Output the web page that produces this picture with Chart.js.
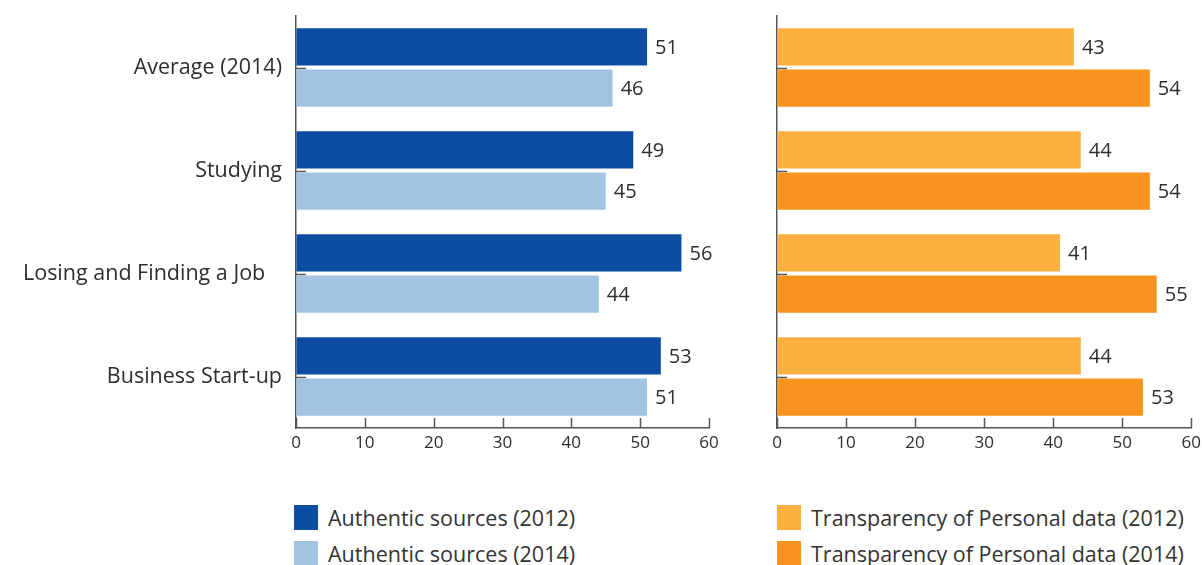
<!DOCTYPE html>
<html>
<head>
<meta charset="utf-8">
<script src="https://cdn.jsdelivr.net/npm/chart.js@4"></script>
<style>
  body { margin: 0; background: #fff; width: 1202px; height: 565px; overflow: hidden; position: relative; font-family: "Open Sans", sans-serif; }
  .panel { position: absolute; top: 0; height: 460px; }
  #leftPanel { left: 0; width: 730px; }
  #rightPanel { left: 760px; width: 446px; }
  .legend-item { position: absolute; height: 25px; display: flex; align-items: center; font-size: 21.5px; color: #333; white-space: nowrap; }
  .legend-item span.box { width: 24px; height: 25px; margin-right: 10px; display: inline-block; }
</style>
</head>
<body>
<div class="panel" id="leftPanel"><canvas id="leftChart"></canvas></div>
<div class="panel" id="rightPanel"><canvas id="rightChart"></canvas></div>
<div id="legend"></div>
<script>
// Chart data
const categories = ['Average (2014)', 'Studying', 'Losing and Finding a Job   ', 'Business Start-up'];
const authentic2012 = [51, 49, 56, 53];
const authentic2014 = [46, 45, 44, 51];
const transparency2012 = [43, 44, 41, 44];
const transparency2014 = [54, 54, 55, 53];
const xMin = 0, xMax = 60, xStep = 10;

const colors = {
    auth2012: '#0c4da2',
    auth2014: '#a2c4e2',
    trans2012: '#fbb040',
    trans2014: '#f7941e'
};

const textColor = '#2e2e2e';
const axisColor = '#555555';

// Short ticks pointing into the plot area
const innerTicks = {
    id: 'innerTicks',
    beforeDatasetsDraw(chart) {
        const { ctx, scales: { x, y } } = chart;
        ctx.save();
        ctx.strokeStyle = axisColor;
        ctx.lineWidth = 1.5;
        y.ticks.forEach((t, i) => {
            const py = Math.round(y.getPixelForTick(i)) + 0.5;
            ctx.beginPath();
            ctx.moveTo(x.left, py);
            ctx.lineTo(x.left + 10, py);
            ctx.stroke();
        });
        x.ticks.forEach((t, i) => {
            const px = Math.round(x.getPixelForTick(i)) + 0.5;
            ctx.beginPath();
            ctx.moveTo(px, y.bottom);
            ctx.lineTo(px, y.bottom - 10);
            ctx.stroke();
        });
        ctx.restore();
    }
};

// Value labels at the end of each bar
const valueLabels = {
    id: 'valueLabels',
    afterDatasetsDraw(chart) {
        const { ctx } = chart;
        ctx.save();
        ctx.fillStyle = textColor;
        ctx.font = '20px "Open Sans"';
        ctx.textAlign = 'left';
        ctx.textBaseline = 'middle';
        chart.data.datasets.forEach((ds, i) => {
            chart.getDatasetMeta(i).data.forEach((bar, j) => {
                ctx.fillText(ds.data[j], bar.x + 8, bar.y + 1);
            });
        });
        ctx.restore();
    }
};

function createPanel(canvasId, series, showLabels, padRight, yWidth) {
    const ctx = document.getElementById(canvasId).getContext('2d');
    return new Chart(ctx, {
        type: 'bar',
        data: {
            labels: categories,
            datasets: series.map(s => ({
                label: s.label,
                data: s.data,
                backgroundColor: s.color,
                borderWidth: 0,
                categoryPercentage: 0.8,
                barPercentage: 0.9
            }))
        },
        options: {
            indexAxis: 'y',
            responsive: true,
            maintainAspectRatio: false,
            animation: false,
            layout: { padding: { top: 16, right: padRight, left: 0, bottom: 0 } },
            plugins: {
                legend: { display: false },
                tooltip: { enabled: false }
            },
            scales: {
                x: {
                    min: xMin,
                    max: xMax,
                    ticks: {
                        stepSize: xStep,
                        color: textColor,
                        font: { family: 'Open Sans', size: 17 },
                        padding: 5
                    },
                    grid: { display: true, drawOnChartArea: false, drawTicks: false },
                    border: { color: axisColor, width: 1.5 },
                    afterFit(scale) { scale.height = 32; }
                },
                y: {
                    ticks: {
                        display: showLabels,
                        color: textColor,
                        font: { family: 'Open Sans', size: 21.5 },
                        padding: 0
                    },
                    // invisible tick marks keep a gap between labels and axis
                    grid: { display: true, drawOnChartArea: false, drawTicks: true, tickLength: 14, color: 'rgba(0,0,0,0)' },
                    border: { color: axisColor, width: 1.5 },
                    afterFit(scale) { scale.width = yWidth; }
                }
            }
        },
        plugins: [innerTicks, valueLabels]
    });
}

createPanel('leftChart', [
    { label: 'Authentic sources (2012)', data: authentic2012, color: colors.auth2012 },
    { label: 'Authentic sources (2014)', data: authentic2014, color: colors.auth2014 }
], true, 21, 296);

createPanel('rightChart', [
    { label: 'Transparency of Personal data (2012)', data: transparency2012, color: colors.trans2012 },
    { label: 'Transparency of Personal data (2014)', data: transparency2014, color: colors.trans2014 }
], false, 8, 17);

// Legend below the panels
const legendItems = [
    { text: 'Authentic sources (2012)', color: colors.auth2012, left: 294, top: 505 },
    { text: 'Authentic sources (2014)', color: colors.auth2014, left: 294, top: 541 },
    { text: 'Transparency of Personal data (2012)', color: colors.trans2012, left: 777, top: 505 },
    { text: 'Transparency of Personal data (2014)', color: colors.trans2014, left: 777, top: 541 }
];
const legend = document.getElementById('legend');
legendItems.forEach(item => {
    const div = document.createElement('div');
    div.className = 'legend-item';
    div.style.left = item.left + 'px';
    div.style.top = item.top + 'px';
    div.innerHTML = `<span class="box" style="background:${item.color}"></span>${item.text}`;
    legend.appendChild(div);
});
</script>
</body>
</html>
